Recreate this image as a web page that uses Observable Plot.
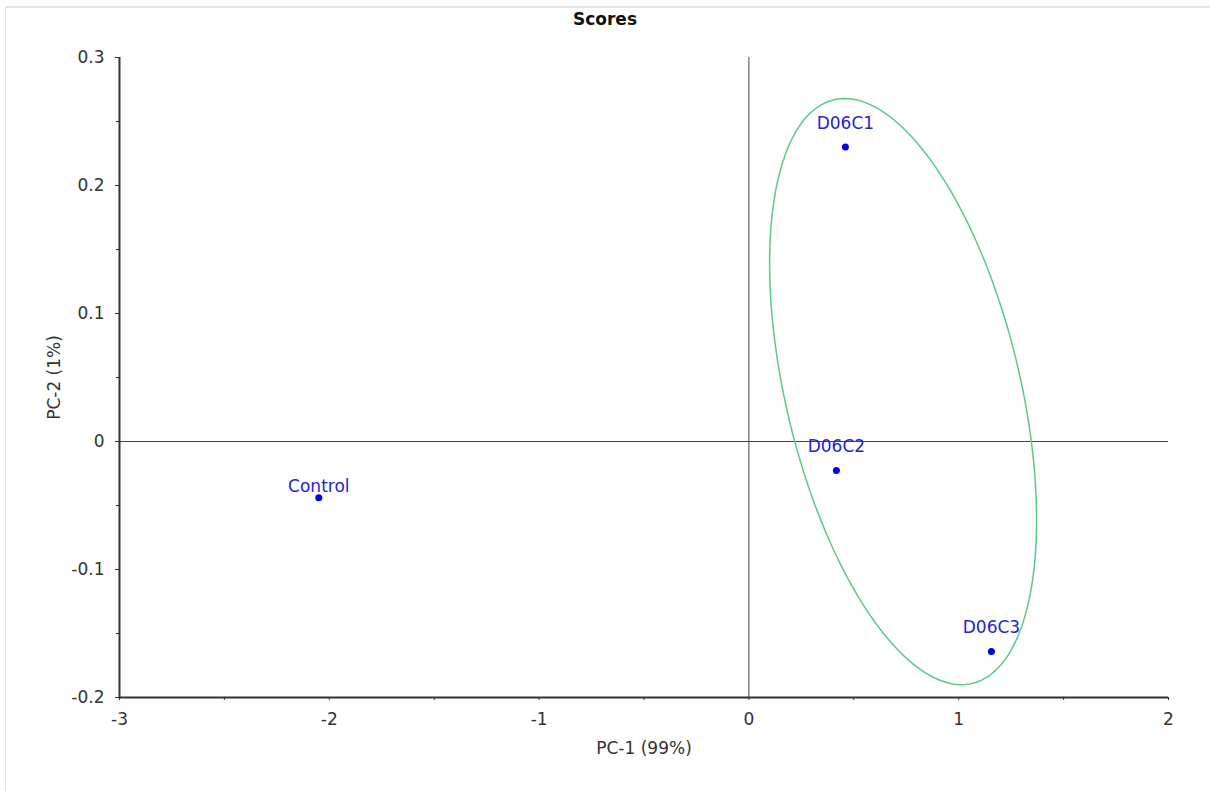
<!DOCTYPE html>
<html><head><meta charset="utf-8">
<script src="https://cdn.jsdelivr.net/npm/d3@7"></script>
<script src="https://cdn.jsdelivr.net/npm/@observablehq/plot@0.6"></script>
<style>
body{margin:0;background:#fff;font-family:"DejaVu Sans",Verdana,sans-serif;}
#wrap{position:relative;width:1210px;height:791px;overflow:hidden;background:#fff;}
#frame{position:absolute;z-index:10;left:5px;top:6px;width:1210px;height:791px;border-left:1px solid #e4e4e4;border-top:2px solid #e4e4e4;pointer-events:none;}
#title{position:absolute;left:0;top:0;width:1210px;height:36px;line-height:38px;text-align:center;font-weight:bold;font-size:17px;color:#111;}
#chart{position:absolute;left:0;top:36px;}
</style></head>
<body>
<div id="wrap"><div id="title">Scores</div><div id="chart"></div><div id="frame"></div></div>
<script>
const sampleNames = ["Control", "D06C1", "D06C2", "D06C3"];
const pc1 = [-2.05, 0.46, 0.417, 1.156];
const pc2 = [-0.044, 0.230, -0.0227, -0.164];
const xTicks = [-3, -2, -1, 0, 1, 2];
const xMinor = [-2.5, -1.5, -0.5, 0.5, 1.5];
const yTicks = [-0.2, -0.1, 0, 0.1, 0.2, 0.3];
const yMinor = [-0.15, -0.05, 0.05, 0.15, 0.25];
// group ellipse: centre and Cholesky factor of its shape matrix (data units)
const ellipseCenter = [0.735, 0.039];
const ellipseL = [[0.6363, 0], [-0.1001, 0.2059]];

const samples = sampleNames.map((n, i) => ({name: n, x: pc1[i], y: pc2[i]}));
const ellipse = d3.range(0, 361, 2).map(deg => {
  const t = deg * Math.PI / 180, c = Math.cos(t), s = Math.sin(t);
  return {x: ellipseCenter[0] + ellipseL[0][0] * c + ellipseL[0][1] * s,
          y: ellipseCenter[1] + ellipseL[1][0] * c + ellipseL[1][1] * s};
});
const font = '"DejaVu Sans", Verdana, sans-serif';

const chart = Plot.plot({
  width: 1210, height: 755,
  marginLeft: 119, marginRight: 42, marginTop: 21, marginBottom: 94,
  style: {fontFamily: font, fontSize: "17px", color: "#333", background: "#fff"},
  x: {domain: [-3, 2]},
  y: {domain: [-0.2, 0.3]},
  marks: [
    Plot.ruleX([0], {stroke: "#444", strokeWidth: 1}),
    Plot.ruleY([0], {stroke: "#444", strokeWidth: 1}),
    Plot.line(ellipse, {x: "x", y: "y", stroke: "#5cc98a", strokeWidth: 1.5, curve: "linear"}),
    Plot.axisX({ticks: xTicks, tickSize: 3, tickPadding: 12, tickFormat: d => String(d), stroke: "#333", fontSize: 17, color: "#333",
      label: "PC-1 (99%)", labelAnchor: "center", labelOffset: 56, labelArrow: "none"}),
    Plot.axisX({ticks: xMinor, tickSize: 3, tickFormat: () => "", stroke: "#333", label: null}),
    Plot.axisY({ticks: yTicks, tickSize: 4, tickPadding: 11, tickFormat: d => String(d), stroke: "#333", fontSize: 17,
      label: "PC-2 (1%)", labelAnchor: "center", labelOffset: 72, labelArrow: "none"}),
    Plot.axisY({ticks: yMinor, tickSize: 3, tickFormat: () => "", stroke: "#333", label: null}),
    Plot.ruleX([-3], {stroke: "#333", strokeWidth: 2}),
    Plot.ruleY([-0.2], {stroke: "#333", strokeWidth: 2}),
    Plot.dot(samples, {x: "x", y: "y", r: 3.5, fill: "#0000ee", stroke: "none"}),
    Plot.text(samples.filter(d => d.name === "Control"), {x: "x", y: "y", text: "name", dy: -11, fill: "#2525cc", fontSize: 17}),
    Plot.text(samples.filter(d => d.name !== "Control"), {x: "x", y: "y", text: "name", dy: -24, fill: "#2525cc", fontSize: 17})
  ]
});
document.getElementById("chart").appendChild(chart);
</script>
</body></html>
